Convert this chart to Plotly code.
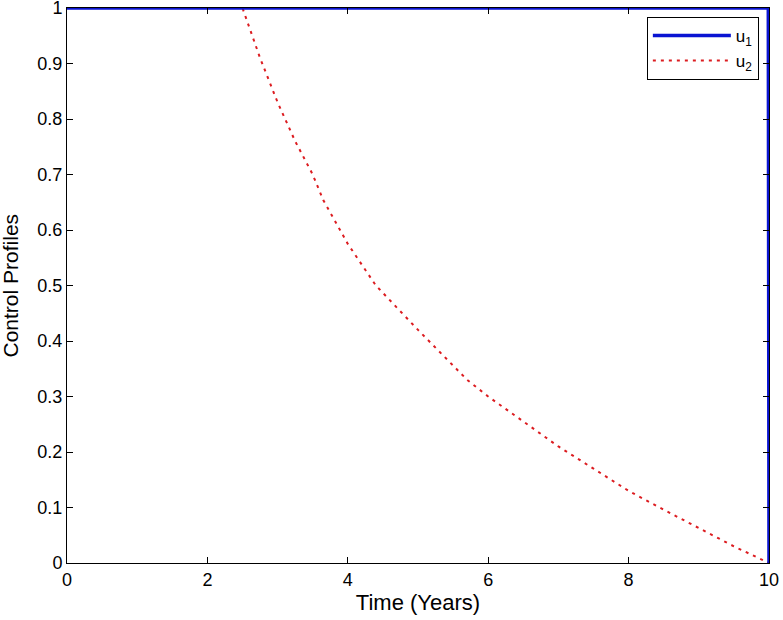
import plotly.graph_objects as go

# control u1: bang-bang, switches off at final time
t_u1 = [0, 9.99, 10]
u1 = [1, 1, 0]

# control u2: saturated until ~2.5 years, then decays to zero
t_u2 = [0, 2.5, 2.75, 3.0, 3.25, 3.5, 3.65, 4.0, 4.4, 5.0, 5.7, 6.0, 6.5,
        7.0, 7.5, 8.0, 8.5, 9.0, 9.5, 10.0]
u2 = [1.0, 1.0, 0.91, 0.83, 0.76, 0.70, 0.654, 0.575, 0.50, 0.42, 0.33,
      0.30, 0.255, 0.21, 0.17, 0.13, 0.096, 0.063, 0.03, 0.0]

x_ticks = [0, 2, 4, 6, 8, 10]
y_ticks = [0, 0.1, 0.2, 0.3, 0.4, 0.5, 0.6, 0.7, 0.8, 0.9, 1]
y_tick_labels = ["0", "0.1", "0.2", "0.3", "0.4", "0.5", "0.6", "0.7",
                 "0.8", "0.9", "1"]

fig = go.Figure()

fig.add_trace(
    go.Scatter(
        x=t_u2,
        y=u2,
        mode="lines",
        name="u<sub>2</sub>",
        line={"color": "#dc1c20", "width": 2, "dash": "3px,5px"},
        cliponaxis=False,
    )
)

fig.add_trace(
    go.Scatter(
        x=t_u1,
        y=u1,
        mode="lines",
        name="u<sub>1</sub>",
        line={"color": "#0a14d2", "width": 3.5},
        cliponaxis=False,
    )
)

axis_common = {
    "showgrid": False,
    "zeroline": False,
    "showline": True,
    "linecolor": "black",
    "linewidth": 1,
    "mirror": "ticks",
    "ticks": "inside",
    "ticklen": 6,
    "tickcolor": "black",
    "automargin": False,
    "ticklabeloverflow": "allow",
    "tickfont": {"family": "Liberation Sans, Arial", "size": 18, "color": "black"},
}

fig.update_layout(
    width=783,
    height=620,
    margin={"l": 67, "r": 14, "t": 8, "b": 57},
    paper_bgcolor="white",
    plot_bgcolor="white",
    font={"family": "Liberation Sans, Arial", "size": 18, "color": "black"},
    showlegend=True,
    legend={
        "x": 0.826,
        "y": 0.984,
        "xanchor": "left",
        "yanchor": "top",
        "bordercolor": "black",
        "borderwidth": 1,
        "bgcolor": "white",
        "traceorder": "reversed",
        "font": {"size": 17},
        "itemwidth": 78,
        "tracegroupgap": 0,
    },
    xaxis={
        **axis_common,
        "range": [0, 10],
        "tickvals": x_ticks,
        "title": {"text": "Time (Years)", "standoff": 6},
    },
    yaxis={
        **axis_common,
        "range": [0, 1],
        "tickvals": y_ticks,
        "ticktext": y_tick_labels,
    },
    annotations=[
        {
            "text": "Control Profiles",
            "xref": "paper",
            "yref": "paper",
            "x": 0,
            "y": 0.5,
            "xanchor": "center",
            "yanchor": "middle",
            "xshift": -57,
            "textangle": -90,
            "showarrow": False,
            "font": {"family": "Liberation Sans, Arial", "size": 21,
                     "color": "black"},
        }
    ],
)

fig.write_html(
    "out.html",
    config={"displayModeBar": False},
    post_script="document.body.style.margin='0';",
)
